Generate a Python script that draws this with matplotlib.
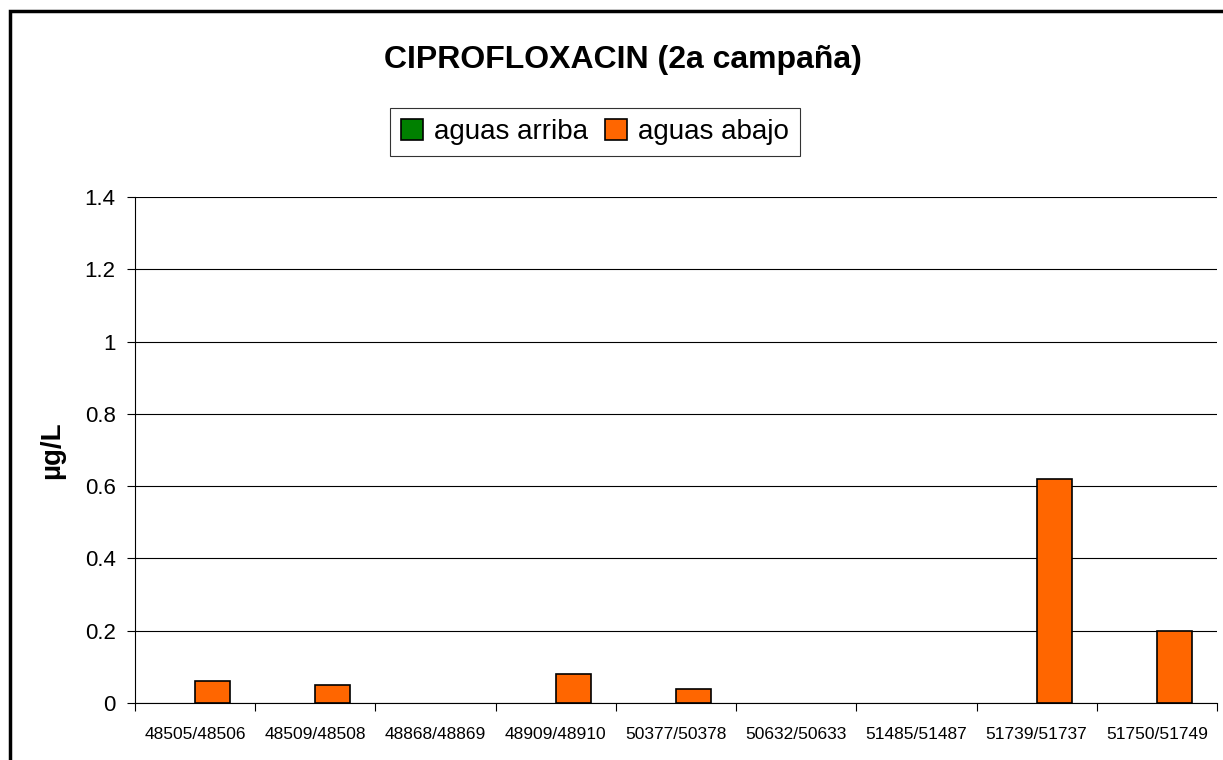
import matplotlib.pyplot as plt
import numpy as np
from matplotlib.patches import Rectangle

plt.rcParams['font.family'] = ['Liberation Sans', 'DejaVu Sans']

sites = ['48505/48506', '48509/48508', '48868/48869', '48909/48910', '50377/50378',
         '50632/50633', '51485/51487', '51739/51737', '51750/51749']
aguas_arriba = [0, 0, 0, 0, 0, 0, 0, 0, 0]
aguas_abajo = [0.06, 0.05, 0, 0.08, 0.04, 0, 0, 0.62, 0.2]
yticks = [0, 0.2, 0.4, 0.6, 0.8, 1, 1.2, 1.4]
ytick_labels = ['0', '0.2', '0.4', '0.6', '0.8', '1', '1.2', '1.4']

fig = plt.figure(figsize=(12.23, 7.6), dpi=100)
ax = fig.add_axes([135 / 1223, 1 - 703 / 760, (1217 - 135) / 1223, (703 - 197) / 760])

# outer chart frame (cut off at bottom/right like the original)
fig.patches.append(Rectangle((10 / 1223, -0.1), 1.2, 1 - 11 / 760 + 0.1, transform=fig.transFigure,
                             fill=False, edgecolor='black', linewidth=2.5))

x = np.arange(len(sites))
w = 0.29
# zero values draw nothing (no outline)
ax.bar(x - w / 2, aguas_arriba, w, color='#008000', edgecolor='black',
       linewidth=[1.2 if v > 0 else 0 for v in aguas_arriba], label='aguas arriba')
ax.bar(x + w / 2, aguas_abajo, w, color='#FF6600', edgecolor='black',
       linewidth=[1.2 if v > 0 else 0 for v in aguas_abajo], label='aguas abajo')

ax.set_xlim(-0.5, len(sites) - 0.5)
ax.set_ylim(0, 1.4)
ax.set_yticks(yticks)
ax.set_yticklabels(ytick_labels, fontsize=16)
ax.yaxis.grid(True, color='black', linewidth=0.8)
ax.set_axisbelow(True)

ax.set_xticks(x)
ax.set_xticklabels(sites, fontsize=12.5)
ax.set_xticks(np.arange(len(sites) + 1) - 0.5, minor=True)
ax.tick_params(axis='x', which='major', length=0, pad=17)
ax.tick_params(axis='x', which='minor', length=6, width=0.8, direction='out')
ax.tick_params(axis='y', length=6, width=0.8, direction='out', pad=8)

for s in ['top', 'right']:
    ax.spines[s].set_visible(False)
ax.spines['left'].set_linewidth(0.8)
ax.spines['bottom'].set_linewidth(0.8)

ax.set_ylabel('µg/L', fontsize=20, fontweight='bold', labelpad=14)

fig.text(623 / 1223, 1 - 60 / 760, 'CIPROFLOXACIN (2a campaña)', ha='center', va='center',
         fontsize=23, fontweight='bold')

leg = fig.legend(loc='center', bbox_to_anchor=(595 / 1223, 1 - 132 / 760), ncol=2,
                 fontsize=20, frameon=True, fancybox=False, edgecolor='black',
                 handlelength=0.8, handleheight=0.8, handletextpad=0.4, columnspacing=0.6,
                 borderpad=0.4)
leg.get_frame().set_linewidth(0.8)
for h in leg.legend_handles:
    h.set_linewidth(1.2)

fig.savefig('out.png', dpi=100)
